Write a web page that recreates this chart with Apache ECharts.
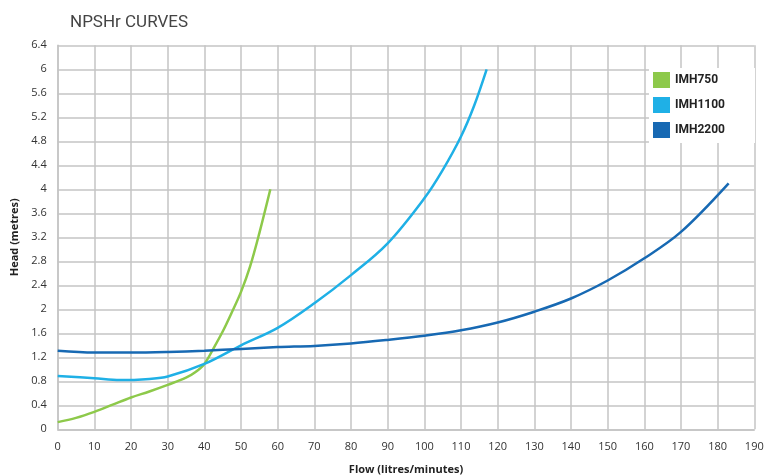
<!DOCTYPE html>
<html><head><meta charset="utf-8">
<script src="https://cdn.jsdelivr.net/npm/echarts@6/dist/echarts.min.js"></script>
<style>html,body{margin:0;padding:0;background:#fff}#c{width:781px;height:475px}</style>
</head><body><div id="c"></div>
<script>
var seriesNames = ['IMH750', 'IMH1100', 'IMH2200'];
var flow750 = [0, 5, 10, 15, 20, 25, 30, 35, 37.5, 40, 42.5, 45, 47.5, 50, 52.5, 55, 58];
var head750 = [0.12, 0.19, 0.29, 0.41, 0.53, 0.63, 0.74, 0.86, 0.95, 1.09, 1.35, 1.63, 1.95, 2.29, 2.72, 3.27, 4.0];
var flow1100 = [0, 10, 17, 25, 30, 40, 50, 60, 70, 80, 90, 100, 105, 110, 113.5, 117];
var head1100 = [0.89, 0.85, 0.82, 0.84, 0.88, 1.09, 1.40, 1.69, 2.1, 2.57, 3.1, 3.85, 4.32, 4.88, 5.38, 6.0];
var flow2200 = [0, 10, 20, 30, 40, 50, 60, 70, 80, 90, 100, 110, 120, 130, 140, 150, 160, 170, 183];
var head2200 = [1.31, 1.28, 1.28, 1.29, 1.31, 1.34, 1.37, 1.39, 1.43, 1.49, 1.56, 1.65, 1.78, 1.96, 2.18, 2.48, 2.85, 3.29, 4.1];
var colors = ['#8DC94A', '#1FB0E6', '#1769B3'];

function pairs(xs, ys) { return xs.map(function (x, i) { return [x, ys[i]]; }); }
var font = '"Open Sans", "Liberation Sans", sans-serif';
var chart = echarts.init(document.getElementById('c'));
chart.setOption({
  animation: false,
  backgroundColor: '#fff',
  title: { text: 'NPSHr CURVES', left: 65, top: 9, textStyle: { fontFamily: 'Roboto, sans-serif', fontSize: 17, fontWeight: 'normal', color: '#444' } },
  legend: {
    orient: 'vertical', right: 26, top: 68, width: 108,
    backgroundColor: '#fff', padding: [4, 30, 5, 4],
    itemWidth: 17, itemHeight: 16, itemGap: 9,
    icon: 'rect',
    data: seriesNames,
    textStyle: { fontFamily: 'Roboto, sans-serif', fontSize: 12, fontWeight: 'bold', color: '#222' }
  },
  grid: { left: 57.7, right: 26.7, top: 45.3, bottom: 45.7, containLabel: false, outerBoundsMode: 'none' },
  xAxis: {
    type: 'value', min: 0, max: 190, interval: 10,
    name: 'Flow (litres/minutes)', nameLocation: 'middle', nameGap: 35,
    nameTextStyle: { fontFamily: font, fontSize: 11, fontWeight: 'bold', color: '#222' },
    axisLine: { lineStyle: { color: '#c4c4c4', width: 1.5 } },
    axisTick: { show: false },
    axisLabel: { fontFamily: font, fontSize: 11, color: '#333', margin: 12 },
    splitLine: { show: true, lineStyle: { color: '#c4c4c4', width: 1.5 } }
  },
  yAxis: {
    type: 'value', min: 0, max: 6.4, interval: 0.4,
    name: 'Head (metres)', nameLocation: 'middle', nameGap: 37, nameRotate: 90,
    nameTextStyle: { fontFamily: font, fontSize: 11, fontWeight: 'bold', color: '#222' },
    axisLine: { show: true, lineStyle: { color: '#c4c4c4', width: 1.5 } },
    axisTick: { show: false },
    axisLabel: { fontFamily: font, fontSize: 11, color: '#333', margin: 11 },
    splitLine: { show: true, lineStyle: { color: '#c4c4c4', width: 1.5 } }
  },
  series: [
    { name: seriesNames[0], type: 'line', smooth: 0.35, showSymbol: false, data: pairs(flow750, head750), lineStyle: { width: 2.5, color: colors[0] }, itemStyle: { color: colors[0] } },
    { name: seriesNames[1], type: 'line', smooth: 0.35, showSymbol: false, data: pairs(flow1100, head1100), lineStyle: { width: 2.5, color: colors[1] }, itemStyle: { color: colors[1] } },
    { name: seriesNames[2], type: 'line', smooth: 0.35, showSymbol: false, data: pairs(flow2200, head2200), lineStyle: { width: 2.5, color: colors[2] }, itemStyle: { color: colors[2] } }
  ]
});
</script></body></html>
